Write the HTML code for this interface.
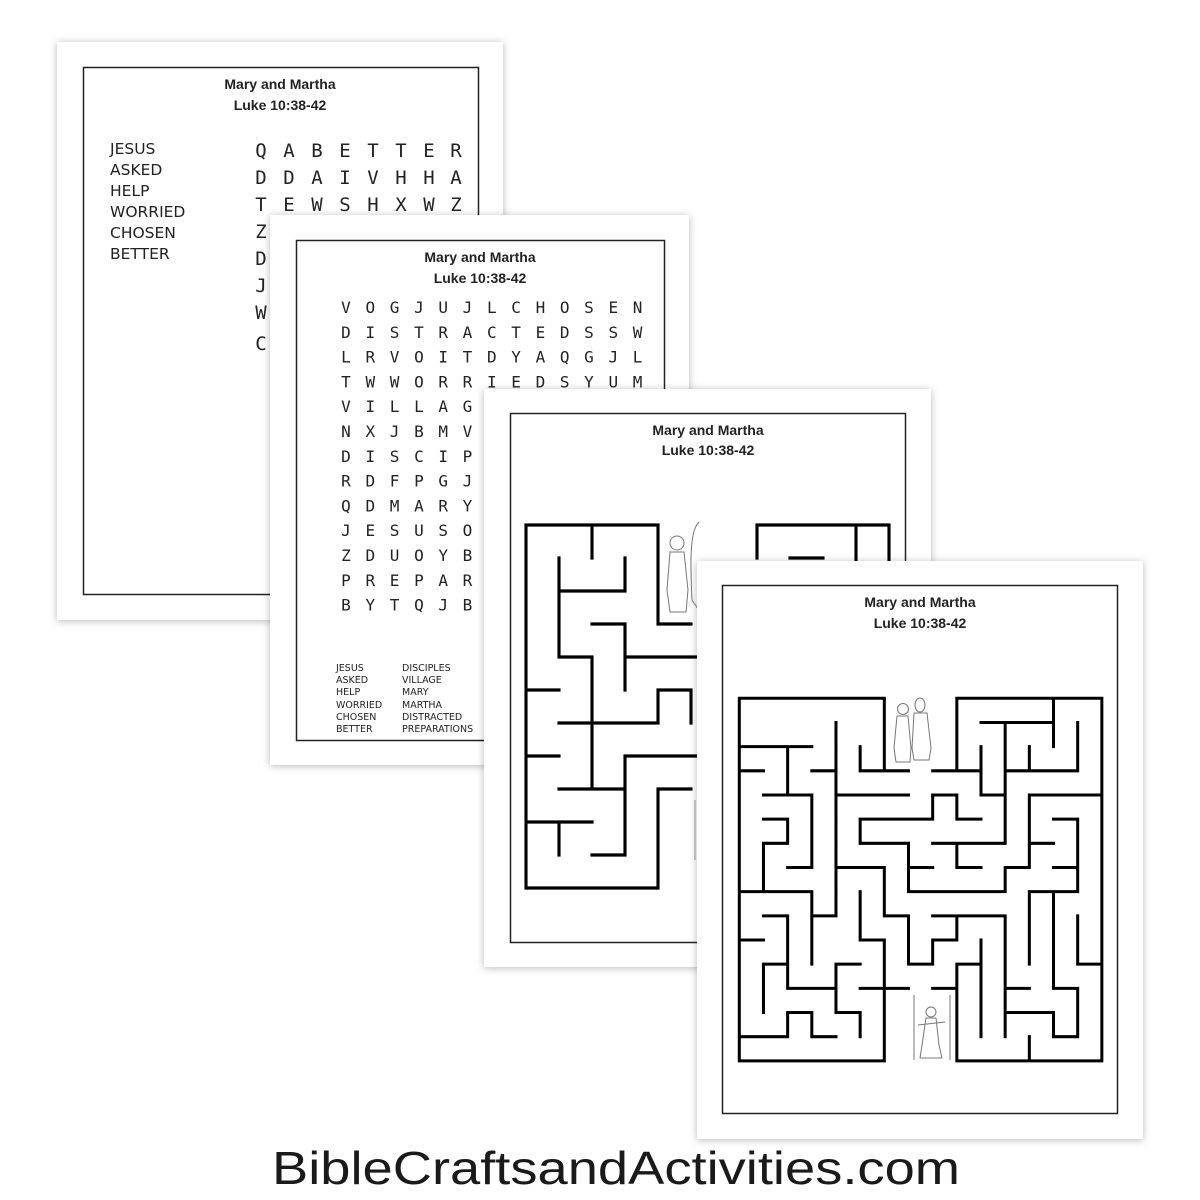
<!DOCTYPE html>
<html><head><meta charset="utf-8"><style>
html,body{margin:0;padding:0;background:#fff;}
svg{display:block;}
.t{font-family:"Liberation Sans",sans-serif;font-weight:bold;font-size:14px;fill:#222;text-anchor:middle;}
.m1{font-family:"DejaVu Sans Mono","Liberation Mono",monospace;font-size:19px;fill:#222;text-anchor:middle;}
.m2{font-family:"DejaVu Sans Mono","Liberation Mono",monospace;font-size:16px;fill:#222;text-anchor:middle;}
.w1{font-family:"DejaVu Sans","Liberation Sans",sans-serif;font-size:15.5px;fill:#222;}
.w2{font-family:"DejaVu Sans","Liberation Sans",sans-serif;font-size:9.5px;fill:#222;}
.mz{fill:none;stroke:#000;stroke-linecap:square;}
.fig{fill:none;stroke:#777;stroke-width:1;}
</style></head><body>
<svg width="1200" height="1200" viewBox="0 0 1200 1200" xmlns="http://www.w3.org/2000/svg">
<defs><filter id="sh" x="-10%" y="-10%" width="120%" height="120%"><feDropShadow dx="0" dy="1" stdDeviation="4" flood-color="#000" flood-opacity="0.28"/></filter></defs>

<!-- Page 1 -->
<rect x="57" y="42" width="446" height="578" fill="#fff" filter="url(#sh)"/>
<rect x="83.5" y="67.5" width="395" height="527" fill="none" stroke="#222" stroke-width="1.5"/>
<text class="t" x="280" y="89">Mary and Martha</text>
<text class="t" x="280" y="110">Luke 10:38-42</text>
<g class="w1">
<text x="110" y="154">JESUS</text><text x="110" y="175">ASKED</text><text x="110" y="196">HELP</text>
<text x="110" y="217">WORRIED</text><text x="110" y="238">CHOSEN</text><text x="110" y="259">BETTER</text>
</g>
<g class="m1">
<text y="157"><tspan x="261">Q</tspan><tspan x="289">A</tspan><tspan x="317">B</tspan><tspan x="345">E</tspan><tspan x="373">T</tspan><tspan x="401">T</tspan><tspan x="429">E</tspan><tspan x="456">R</tspan></text>
<text y="184"><tspan x="261">D</tspan><tspan x="289">D</tspan><tspan x="317">A</tspan><tspan x="345">I</tspan><tspan x="373">V</tspan><tspan x="401">H</tspan><tspan x="429">H</tspan><tspan x="456">A</tspan></text>
<text y="211"><tspan x="261">T</tspan><tspan x="289">E</tspan><tspan x="317">W</tspan><tspan x="345">S</tspan><tspan x="373">H</tspan><tspan x="401">X</tspan><tspan x="429">W</tspan><tspan x="456">Z</tspan></text>
<text y="238"><tspan x="261">Z</tspan></text>
<text y="265"><tspan x="261">D</tspan></text>
<text y="292"><tspan x="261">J</tspan></text>
<text y="319"><tspan x="261">W</tspan></text>
<text y="350"><tspan x="261">C</tspan></text>
</g>

<!-- Page 2 -->
<rect x="270" y="215" width="419" height="550" fill="#fff" filter="url(#sh)"/>
<rect x="296.5" y="240.5" width="368" height="500" fill="none" stroke="#222" stroke-width="1.5"/>
<text class="t" x="480" y="262">Mary and Martha</text>
<text class="t" x="480" y="283">Luke 10:38-42</text>
<g class="m2" id="ws2"></g>
<g class="w2">
<text x="336" y="671">JESUS</text><text x="336" y="683">ASKED</text><text x="336" y="695">HELP</text>
<text x="336" y="708">WORRIED</text><text x="336" y="720">CHOSEN</text><text x="336" y="732">BETTER</text>
<text x="402" y="671">DISCIPLES</text><text x="402" y="683">VILLAGE</text><text x="402" y="695">MARY</text>
<text x="402" y="708">MARTHA</text><text x="402" y="720">DISTRACTED</text><text x="402" y="732">PREPARATIONS</text>
</g>

<!-- Page 3 -->
<rect x="484" y="389" width="447" height="578" fill="#fff" filter="url(#sh)"/>
<rect x="510.5" y="413.5" width="395" height="529" fill="none" stroke="#222" stroke-width="1.5"/>
<text class="t" x="708" y="435">Mary and Martha</text>
<text class="t" x="708" y="455">Luke 10:38-42</text>
<g transform="translate(526,525) scale(33)">
<path class="mz" stroke-width="0.095" d="M0,0H4V3H5 M0,0V11H4 M2,0V1 M1,1V4 M1,2H3 M3,1V2 M2,3H3V5 M1,4H2 M2,4V8 M3,4H5.3 M0,5H1 M4,5H5V6 M4,5V6 M1,6H4 M0,7H1 M3,7H5.3 M3,7V10 M1,8H3 M4,8H5 M4,8V11 M0,9H2 M1,9V10 M2,10H3 M7,0H11V1.5 M7,0V1 M10,0V1.5 M8,1H9"/>
</g>
<g class="fig">
<circle cx="677" cy="543" r="7"/><path d="M670,552 L667,590 L670,612 L686,612 L688,590 L684,552 Z"/>
<path d="M699,522 C690,530 690,560 692,600 L700,612"/>
</g>
<line x1="695" y1="800" x2="695" y2="860" stroke="#999" stroke-width="1"/>

<!-- Page 4 -->
<rect x="697" y="561" width="446" height="578" fill="#fff" filter="url(#sh)"/>
<rect x="722.5" y="585.5" width="395" height="528" fill="none" stroke="#222" stroke-width="1.5"/>
<text class="t" x="920" y="607">Mary and Martha</text>
<text class="t" x="920" y="628">Luke 10:38-42</text>
<g transform="translate(739.3,698.3) scale(24.17)">
<path class="mz" stroke-width="0.125" d="M0,0H6 M9,0H15V15H9 M6,15H0V0
M6,0V3 M5,2V3H7 M8,3H9V0 M9,3H10 M10,2V4H11 M11,1V4 M10,1H13 M13,0V2 M12,2V3 M11,3H14 M14,1V3
M0,2H3 M2,2V4 M0,3H1 M3,3H4 M1,4H3 M3,4V7 M2,7H3 M1,5H2V6H1V8 M0,8H3V11 M3,9H4
M4,1V9 M4,4H7
M8,4H9 M8,4V5 M9,4V5H10 M5,5H8 M5,5V6H7V8H11 M7,7H8 M8,6H11V4 M9,6V7H10 M11,7V8 M11,7H12 M12,4V7 M12,4H15 M12,6H13 M13,5H14V8 M13,7H14
M4,7H6V9H7V11H8V10H9V9 M8,9H11V14 M10,10V14 M9,11H10 M9,11V15
M5,8V10H6V15 M5,12H7 M8,12H9
M12,8V11 M12,8H14 M13,8V12H14V14H13V13 M11,13H13 M11,12H12 M14,9V11H15 M12,14V15
M1,9H2V12H4 M4,11V13 M4,11H5 M4,13H5V14 M0,10H1 M1,11H2 M1,11V13 M2,13V14 M2,13H3V14H4 M0,14H2"/>
</g>
<g class="fig">
<circle cx="903" cy="709" r="5.5"/><path d="M897,716 L894,748 L896,762 L910,762 L911,748 L908,716 Z"/>
<ellipse cx="920" cy="705" rx="5" ry="7"/><path d="M914,713 L912,748 L914,760 L929,760 L931,748 L927,713 Z"/>
<path d="M914,995 L914,1060 M950,995 L950,1060"/>
<circle cx="931" cy="1012" r="5"/><path d="M926,1018 L922,1045 L920,1058 L942,1058 L939,1045 L936,1018 Z M918,1025 L945,1022"/>
</g>

<text x="616" y="1184" text-anchor="middle" font-family="Liberation Sans, sans-serif" font-size="46" fill="#1a1a1a" textLength="688" lengthAdjust="spacingAndGlyphs">BibleCraftsandActivities.com</text>
</svg>
<script>
var rows=["VOGJUJLCHOSEN","DISTRACTEDSSW","LRVOITDYAQGJL","TWWORRIEDSYUM","VILLAGEKPMRTA","NXJBMVHELPQAR","DISCIPLESZKOT","RDFPGJASKEDNH","QDMARYWXCBVLA","JESUSOHFUTRZN","ZDUOYBETTERPQ","PREPARATIONSX","BYTQJBKMWLDVC"];
var g=document.getElementById("ws2"),s="";
for(var r=0;r<13;r++){for(var c=0;c<13;c++){s+='<text x="'+(346+24.3*c)+'" y="'+(313+24.8*r)+'">'+rows[r][c]+'</text>';}}
g.innerHTML=s;
</script>
</body></html>
